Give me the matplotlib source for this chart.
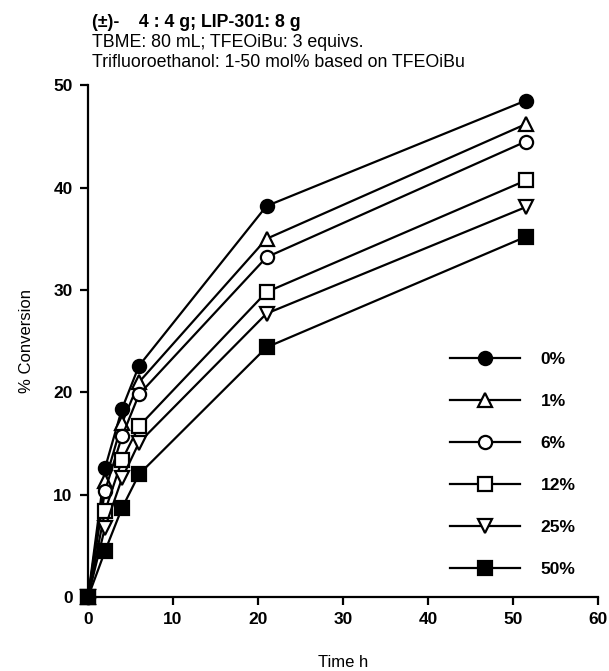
import matplotlib
matplotlib.use("Agg")
import matplotlib.pyplot as plt

plt.rcParams["font.family"] = ["Liberation Sans", "DejaVu Sans"]

# reaction time (h)
time_h = [0, 2, 4, 6, 21, 51.5]

# % conversion for each trifluoroethanol loading
conv_0 = [0, 12.6, 18.4, 22.6, 38.2, 48.5]
conv_1 = [0, 11.3, 17.0, 21.0, 35.0, 46.2]
conv_6 = [0, 10.4, 15.7, 19.8, 33.2, 44.5]
conv_12 = [0, 8.4, 13.4, 16.7, 29.8, 40.7]
conv_25 = [0, 6.8, 11.6, 15.1, 27.7, 38.1]
conv_50 = [0, 4.5, 8.7, 12.0, 24.4, 35.2]

labels = ["0%", "1%", "6%", "12%", "25%", "50%"]
series = [conv_0, conv_1, conv_6, conv_12, conv_25, conv_50]
markers = ["o", "^", "o", "s", "v", "s"]
fills = ["black", "white", "white", "white", "white", "black"]

fig = plt.figure(figsize=(6.09, 6.71), dpi=100)
ax = fig.add_axes([0.1445, 0.110, 0.8375, 0.763])

for y, lab, m, fc in zip(series, labels, markers, fills):
    ax.plot(time_h, y, color="black", linewidth=1.6, marker=m,
            markersize=9.5, markerfacecolor=fc, markeredgecolor="black",
            markeredgewidth=1.6, label=lab, clip_on=False, zorder=3)

ax.set_xlim(0, 60)
ax.set_ylim(0, 50)
ax.set_xticks(range(0, 61, 10))
ax.set_yticks(range(0, 51, 10))
for s in ["top", "right"]:
    ax.spines[s].set_visible(False)
for s in ["left", "bottom"]:
    ax.spines[s].set_linewidth(1.6)
ax.tick_params(direction="out", length=6, width=1.6, labelsize=12.5, pad=5)
for t in ax.get_xticklabels() + ax.get_yticklabels():
    t.set_fontweight("bold")

ax.set_xlabel("Time h", fontsize=12, labelpad=20)
ax.set_ylabel("% Conversion", fontsize=12, labelpad=14)

leg = ax.legend(loc="upper left", bbox_to_anchor=(0.68, 0.51), frameon=False,
                handlelength=4.0, handletextpad=1.2, labelspacing=1.55,
                prop={"weight": "bold", "size": 12.5})

fig.text(0.151, 0.967, "(±)-    4 : 4 g; LIP-301: 8 g", fontsize=12.8,
         fontweight="bold", va="center")
fig.text(0.151, 0.937, "TBME: 80 mL; TFEOiBu: 3 equivs.", fontsize=12.8,
         va="center")
fig.text(0.151, 0.907, "Trifluoroethanol: 1-50 mol% based on TFEOiBu",
         fontsize=12.8, va="center")

fig.savefig("out.png", dpi=100)
